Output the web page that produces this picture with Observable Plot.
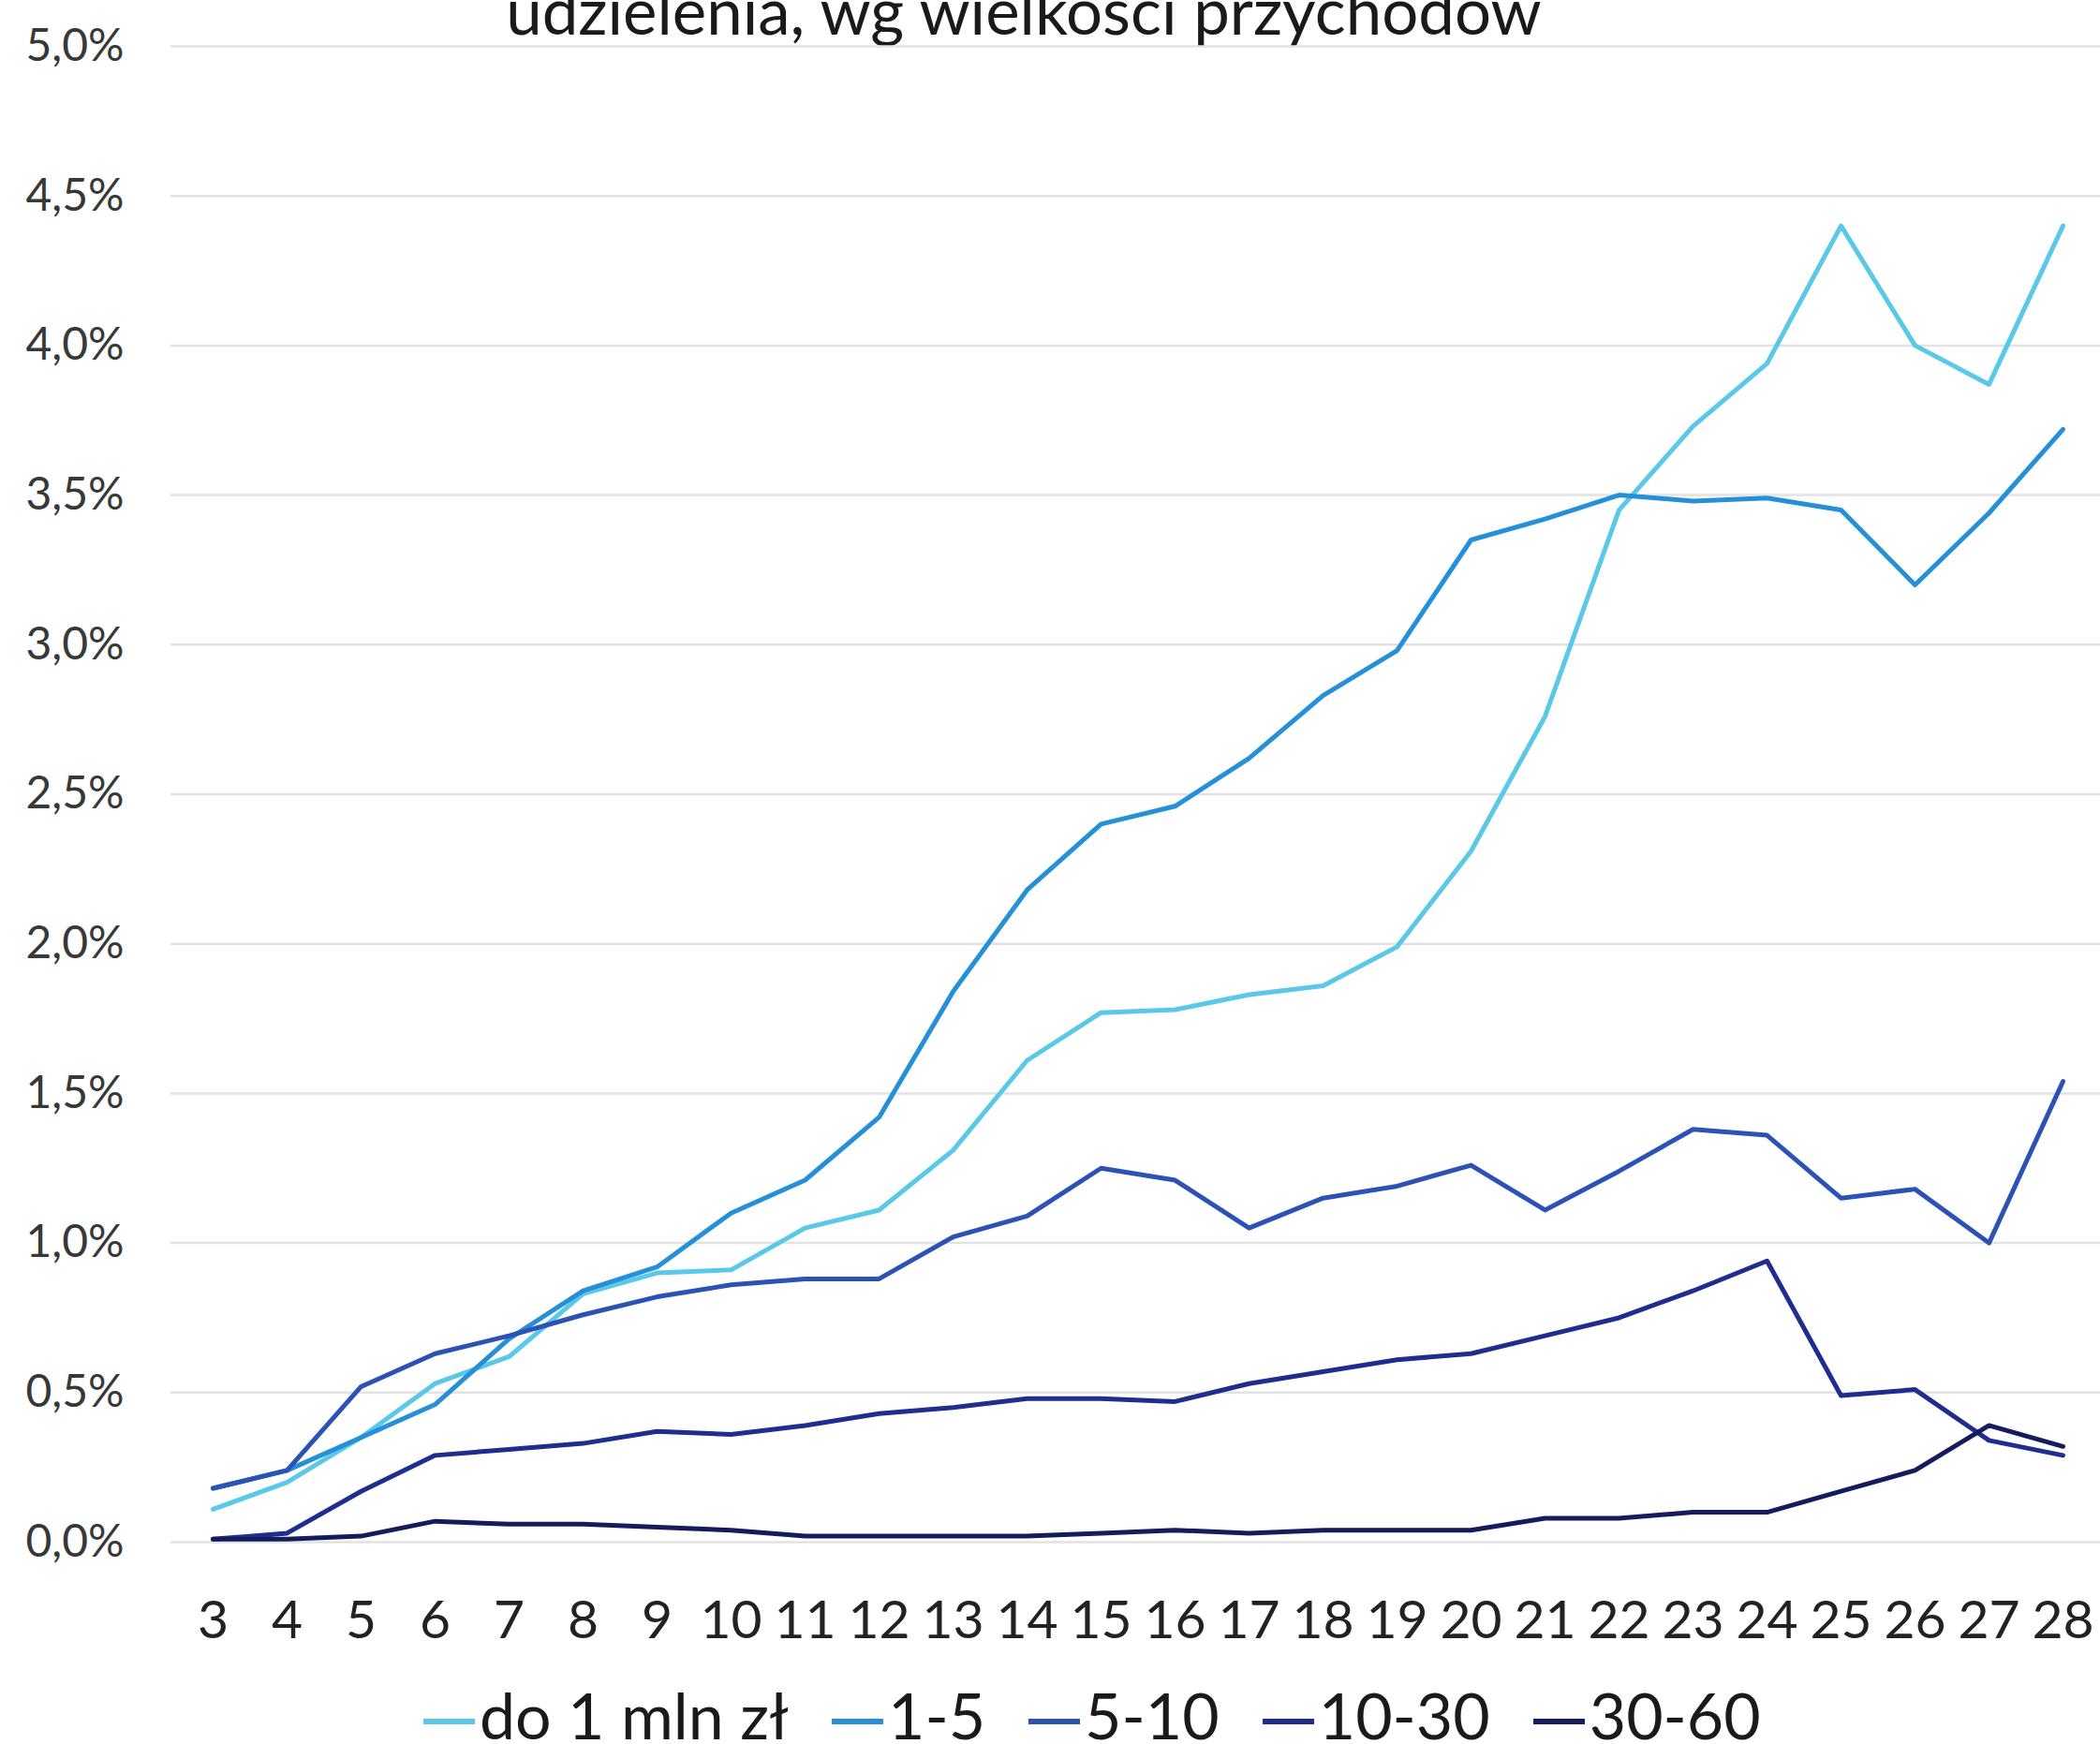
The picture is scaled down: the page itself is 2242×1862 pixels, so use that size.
<!DOCTYPE html>
<html>
<head>
<meta charset="utf-8">
<script src="https://cdn.jsdelivr.net/npm/d3@7"></script>
<script src="https://cdn.jsdelivr.net/npm/@observablehq/plot@0.6"></script>
<style>
  html, body { margin: 0; padding: 0; background: #fff; }
  body { width: 2242px; height: 1862px; overflow: hidden; position: relative; font-family: Lato, "Open Sans", sans-serif; }
  #title { position: absolute; left: 0; width: 2186px; top: -24px; text-align: center; font-size: 69px; line-height: 69px; color: #1a1a1a; white-space: nowrap; }
  #chart { position: absolute; left: 0; top: 0; }
  #legend { position: absolute; left: 452px; top: 1797px; display: flex; align-items: flex-start; font-size: 68px; line-height: 68px; color: #1a1a1a; white-space: nowrap; }
  .item { display: flex; align-items: flex-start; margin-right: 46px; }
  .sw { width: 55px; height: 6px; margin-top: 38px; margin-right: 5px; }
</style>
</head>
<body>
<div id="title">udzielenia, wg wielkości przychodów</div>
<div id="chart"></div>
<div id="legend"></div>
<script>
const months = [3,4,5,6,7,8,9,10,11,12,13,14,15,16,17,18,19,20,21,22,23,24,25,26,27,28];
const seriesNames = ["do 1 mln zł", "1-5", "5-10", "10-30", "30-60"];
const seriesColors = ["#5ac8e8", "#2590d8", "#2c52b6", "#1f2d8f", "#151c5e"];
const yTicks = [0, 0.5, 1, 1.5, 2, 2.5, 3, 3.5, 4, 4.5, 5];

const do1mln = [0.11,0.20,0.35,0.53,0.62,0.83,0.90,0.91,1.05,1.11,1.31,1.61,1.77,1.78,1.83,1.86,1.99,2.31,2.76,3.45,3.73,3.94,4.40,4.00,3.87,4.40];
const s1_5   = [0.18,0.24,0.35,0.46,0.68,0.84,0.92,1.10,1.21,1.42,1.84,2.18,2.40,2.46,2.62,2.83,2.98,3.35,3.42,3.50,3.48,3.49,3.45,3.20,3.44,3.72];
const s5_10  = [0.18,0.24,0.52,0.63,0.69,0.76,0.82,0.86,0.88,0.88,1.02,1.09,1.25,1.21,1.05,1.15,1.19,1.26,1.11,1.24,1.38,1.36,1.15,1.18,1.00,1.54];
const s10_30 = [0.01,0.03,0.17,0.29,0.31,0.33,0.37,0.36,0.39,0.43,0.45,0.48,0.48,0.47,0.53,0.57,0.61,0.63,0.69,0.75,0.84,0.94,0.49,0.51,0.34,0.29];
const s30_60 = [0.01,0.01,0.02,0.07,0.06,0.06,0.05,0.04,0.02,0.02,0.02,0.02,0.03,0.04,0.03,0.04,0.04,0.04,0.08,0.08,0.10,0.10,0.17,0.24,0.39,0.32];

const allSeries = [do1mln, s1_5, s5_10, s10_30, s30_60];
const rows = [];
allSeries.forEach((vals, i) => vals.forEach((v, j) => rows.push({x: months[j], value: v, series: seriesNames[i]})));

const fmt = d => d.toFixed(1).replace(".", ",") + "%";

const chart = Plot.plot({
  width: 2242,
  height: 1780,
  marginTop: 49,
  marginBottom: 134,
  marginLeft: 182,
  marginRight: 0,
  style: {fontFamily: "Lato, sans-serif", background: "transparent", overflow: "visible"},
  x: {type: "point", domain: months, range: [222, 2206], padding: 0},
  y: {domain: [0, 5]},
  color: {domain: seriesNames, range: seriesColors},
  marks: [
    Plot.ruleY(yTicks, {stroke: "#e2e2e2", strokeWidth: 2.5}),
    Plot.axisY({ticks: yTicks, tickFormat: fmt, tickSize: 0, tickPadding: 50, fontSize: 48, fill: "#383838", label: null}),
    Plot.axisX({ticks: months, tickSize: 0, tickPadding: 62, fontSize: 57, fill: "#222", label: null}),
    Plot.line(rows, {x: "x", y: "value", z: "series", stroke: "series", strokeWidth: 5, strokeLinejoin: "round", strokeLinecap: "round"})
  ]
});
document.getElementById("chart").appendChild(chart);

const legend = document.getElementById("legend");
seriesNames.forEach((name, i) => {
  const item = document.createElement("div");
  item.className = "item";
  const sw = document.createElement("div");
  sw.className = "sw";
  sw.style.background = seriesColors[i];
  const t = document.createElement("span");
  t.textContent = name;
  item.appendChild(sw);
  item.appendChild(t);
  legend.appendChild(item);
});
</script>
</body>
</html>
